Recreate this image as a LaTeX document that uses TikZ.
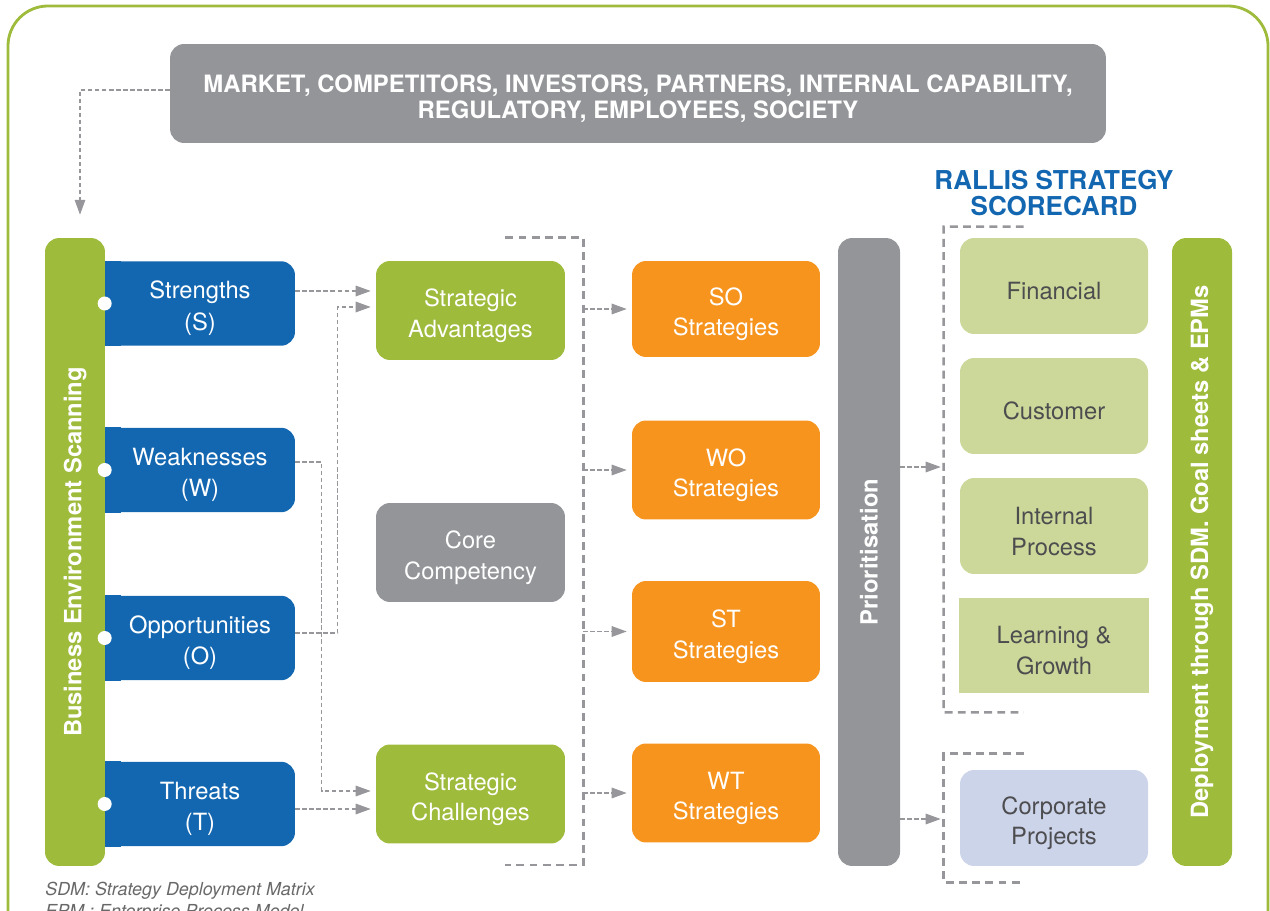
\documentclass[tikz,border=0pt]{standalone}
\usepackage{fontspec}
\setmainfont{TeX Gyre Heros}
\usetikzlibrary{arrows.meta}
\usetikzlibrary{calc}
\usetikzlibrary{positioning}

\definecolor{rblue}{HTML}{1367B1}
\definecolor{rgreen}{HTML}{9EBB3C}
\definecolor{rorange}{HTML}{F6941E}
\definecolor{rgray}{HTML}{939598}
\definecolor{lgreen}{HTML}{CCD89A}
\definecolor{lblue}{HTML}{CCD4EA}
\definecolor{cgray}{HTML}{96969B}
\definecolor{tgray}{HTML}{4D4D4F}

\tikzset{
  box/.style={rectangle,rounded corners=0.28cm,inner sep=0pt,align=center,text=white,
    font=\fontsize{13.5}{17.5}\selectfont,text height=33.4pt,
    minimum width=3.78cm,minimum height=1.98cm},
  oneline/.style={text height=16pt},
  swot/.style={box,fill=rblue,minimum width=3.8cm,minimum height=1.69cm,
    font=\fontsize{13.5}{18}\selectfont},
  strat/.style={box,fill=rorange,minimum width=3.76cm},
  card/.style={box,fill=lgreen,text=tgray,minimum width=3.76cm,minimum height=1.92cm},
  bar/.style={rectangle,rounded corners=0.28cm,inner sep=0pt,text=white,rotate=90,
    font=\bfseries\fontsize{13.5}{16}\selectfont,minimum width=12.56cm,minimum height=1.2cm},
  conn/.style={draw=cgray,line width=0.7pt,dash pattern=on 2.5pt off 1.5pt,
    -{Triangle[length=8.5pt,width=6pt]},shorten >=0.1cm},
  bracket/.style={draw=cgray,line width=1.4pt,dash pattern=on 4.5pt off 3pt},
}

\begin{document}
\begin{tikzpicture}[x=0.02cm,y=-0.02cm]

  \useasboundingbox (0,0) rectangle (1270,911);

  % frame and headings
  \draw [rgreen,line width=1.6pt,rounded corners=0.8cm] (8,6) rectangle (1268,990);

  \node [box,fill=rgray,minimum width=18.72cm,text height=31.3pt,
    font=\bfseries\fontsize{13.6}{15.3}\selectfont]
    (env) at (638,93.5)
    {MARKET, COMPETITORS, INVESTORS, PARTNERS, INTERNAL CAPABILITY,\\REGULATORY, EMPLOYEES, SOCIETY};

  \node [align=center,text=rblue,font=\bfseries\fontsize{14.8}{15.3}\selectfont]
    (title) at (1054,193) {RALLIS STRATEGY\\SCORECARD};

  % swot column
  \node [swot] (S) at (200,303.5) {Strengths\\(S)};
  \node [swot] (W) at (200,470)   {Weaknesses\\(W)};
  \node [swot] (O) at (200,638)   {Opportunities\\(O)};
  \node [swot] (T) at (200,804)   {Threats\\(T)};
  \foreach \n in {S,W,O,T}
    \fill [rblue] (\n.north west) rectangle ($(\n.south west)+(16,0)$);

  \node [bar,fill=rgreen] (BES) at (75,552) {Business Environment Scanning};
  \foreach \n in {S,W,O,T}
    \fill [white] (\n.west) circle (0.14cm);

  % middle columns
  \node [box,fill=rgreen] (SA) at (470.5,310.5) {Strategic\\Advantages};
  \node [box,fill=rgray]  (CC) at (470.5,552.5) {Core\\Competency};
  \node [box,fill=rgreen] (SC) at (470.5,794)   {Strategic\\Challenges};

  \node [strat,minimum height=1.92cm] (SO) at (726,309)   {SO\\Strategies};
  \node [strat]                       (WO) at (726,470)   {WO\\Strategies};
  \node [strat,minimum height=2.02cm] (ST) at (726,631.5) {ST\\Strategies};
  \node [strat]                       (WT) at (726,793)   {WT\\Strategies};

  \node [bar,fill=rgray,minimum height=1.24cm] (P) at (869,552) {Prioritisation};

  % scorecard
  \node [card,oneline] (Fin) at (1054,286) {Financial};
  \node [card,oneline] (Cus) at (1054,406) {Customer};
  \node [card] (IP)  at (1054,526) {Internal\\Process};
  \node [card,rounded corners=0pt,minimum width=3.8cm,minimum height=1.9cm]
    (LG) at (1054,645.5) {Learning \&\\Growth};
  \node [card,fill=lblue] (CP) at (1054,818) {Corporate\\Projects};

  \node [bar,fill=rgreen] (Dep) at (1202,552) {Deployment through SDM. Goal sheets \& EPMs};

  \node [anchor=north west,align=left,inner sep=0pt,text=tgray!85,
    font=\itshape\fontsize{10.2}{12.6}\selectfont]
    (note) at (45,882) {SDM: Strategy Deployment Matrix\\EPM : Enterprise Process Model};

  % connectors
  \draw [conn] ($(env.west)+(0,-3.5)$) -| ($(BES.east)+(5,-18)$);

  \draw [conn] ($(S.east)+(0,-12.5)$) coordinate (s1) -- (SA.west |- s1);
  \coordinate (oj) at ($(SA.west)+(-38,-3.5)$);
  \draw [conn] ($(O.east)+(0,-5)$) -| (oj) -- (SA.west |- oj);
  \coordinate (wj) at ($(SC.west)+(-54,-3)$);
  \draw [conn] ($(W.east)+(0,-8)$) -| (wj) -- (SC.west |- wj);
  \draw [conn] ($(T.east)+(0,5)$) coordinate (t1) -- (SC.west |- t1);

  \coordinate (bt) at ($(SA.north east)+(18,-23)$);
  \coordinate (bb) at ($(SC.south east)+(18,21)$);
  \draw [bracket] ($(bt)+(-78,0)$) -- (bt) -- (bb) -- ($(bb)+(-78,0)$);
  \foreach \n in {SO,WO,ST,WT}
    \draw [conn] (bt |- \n.west) -- (\n.west);

  \coordinate (kt) at ($(Fin.north west)+(-16,-11)$);
  \coordinate (kb) at ($(LG.south west)+(-15,19)$);
  \draw [bracket] ($(kt)+(80,0)$) -- (kt) -- (kb) -- ($(kb)+(80,0)$);
  \coordinate (ct) at ($(CP.north west)+(-16,-16)$);
  \coordinate (cb) at ($(CP.south west)+(-16,16)$);
  \draw [bracket] ($(ct)+(80,0)$) -- (ct) -- (cb) -- ($(cb)+(80,0)$);

  \draw [conn] ($(P.south)+(0,-85)$) coordinate (p1) -- ($(kt |- p1)+(2,0)$);
  \draw [conn] ($(P.south)+(0,267)$) coordinate (p2) -- ($(ct |- p2)+(2,0)$);

\end{tikzpicture}
\end{document}
